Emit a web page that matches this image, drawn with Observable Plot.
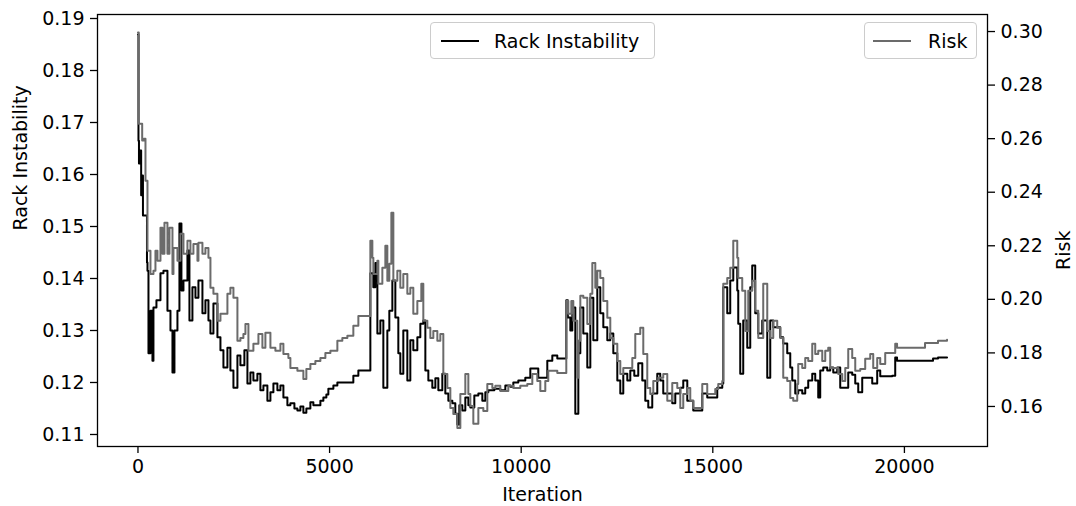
<!DOCTYPE html>
<html><head><meta charset="utf-8">
<script src="https://cdn.jsdelivr.net/npm/d3@7"></script>
<script src="https://cdn.jsdelivr.net/npm/@observablehq/plot@0.6"></script>
<style>
body{margin:0;background:#fff;font-family:"DejaVu Sans",sans-serif;}
#chart{position:relative;width:1076px;height:506px;}
.legend{position:absolute;box-sizing:border-box;border:1px solid #cccccc;border-radius:4px;background:rgba(255,255,255,0.8);font-size:19px;color:#000;}
.legend .sw{position:absolute;height:0;border-top:2px solid #000;}
.legend .tx{position:absolute;white-space:nowrap;line-height:22px;}
</style>
</head><body>
<div id="chart"></div>
<script>
// ---- data ----
const rackIteration = [0,13,26,52,83,104,130,235,248,274,326,378,404,482,587,665,769,848,900,952,1030,1082,1134,1187,1291,1343,1421,1500,1578,1682,1760,1839,1891,1969,2073,2152,2230,2334,2412,2491,2595,2673,2777,2856,2934,3012,3116,3195,3273,3377,3456,3534,3638,3717,3795,3899,3977,4082,4160,4238,4316,4394,4499,4577,4681,4760,4838,4916,4968,5099,5203,5360,5490,5620,5751,6012,6051,6064,6142,6194,6247,6325,6403,6507,6559,6638,6716,6794,6846,6924,7029,7107,7185,7290,7368,7446,7499,7577,7681,7760,7838,7942,8020,8099,8203,8281,8334,8386,8464,8542,8621,8673,8777,8882,8986,9064,9142,9299,9455,9586,9716,9794,9925,10107,10238,10368,10446,10577,10681,10812,10942,11151,11177,11217,11282,11334,11412,11491,11543,11621,11725,11804,11882,11986,12064,12143,12247,12325,12404,12508,12586,12664,12769,12847,12951,13055,13160,13238,13316,13420,13551,13629,13707,13838,13942,14021,14151,14229,14334,14438,14490,14673,14725,14855,15064,15116,15247,15273,15377,15455,15534,15638,15664,15716,15794,15899,15977,16029,16107,16186,16290,16421,16499,16577,16681,16760,16838,16942,17021,17073,17151,17229,17334,17412,17490,17595,17673,17751,17803,17882,17986,18064,18143,18247,18325,18456,18534,18638,18717,18795,18899,19056,19160,19290,19369,19682,19760,19808,20069,20486,20747,20877,21112];
const rackInstability = [0.1869,0.1665,0.1621,0.1646,0.1560,0.1598,0.1521,0.1431,0.1415,0.1256,0.1338,0.1242,0.1344,0.1358,0.1410,0.1415,0.1338,0.1300,0.1219,0.1300,0.1338,0.1506,0.1377,0.1396,0.1454,0.1319,0.1383,0.1363,0.1396,0.1333,0.1358,0.1319,0.1294,0.1352,0.1287,0.1262,0.1229,0.1267,0.1223,0.1190,0.1252,0.1233,0.1262,0.1198,0.1219,0.1204,0.1217,0.1185,0.1194,0.1165,0.1181,0.1198,0.1185,0.1194,0.1171,0.1156,0.1160,0.1150,0.1146,0.1154,0.1142,0.1150,0.1162,0.1156,0.1156,0.1165,0.1171,0.1177,0.1188,0.1194,0.1200,0.1200,0.1200,0.1213,0.1223,0.1223,0.1223,0.1410,0.1383,0.1430,0.1294,0.1319,0.1190,0.1300,0.1338,0.1396,0.1325,0.1256,0.1217,0.1300,0.1204,0.1281,0.1262,0.1287,0.1313,0.1319,0.1223,0.1204,0.1190,0.1208,0.1185,0.1217,0.1179,0.1165,0.1160,0.1140,0.1119,0.1156,0.1146,0.1171,0.1156,0.1152,0.1175,0.1179,0.1165,0.1181,0.1185,0.1188,0.1185,0.1194,0.1192,0.1200,0.1204,0.1209,0.1227,0.1227,0.1209,0.1209,0.1242,0.1252,0.1246,0.1246,0.1358,0.1325,0.1300,0.1344,0.1140,0.1256,0.1344,0.1294,0.1229,0.1363,0.1281,0.1383,0.1333,0.1306,0.1281,0.1294,0.1256,0.1204,0.1179,0.1217,0.1204,0.1223,0.1213,0.1237,0.1204,0.1165,0.1152,0.1179,0.1217,0.1204,0.1179,0.1179,0.1160,0.1179,0.1190,0.1204,0.1165,0.1165,0.1146,0.1146,0.1179,0.1171,0.1171,0.1190,0.1198,0.1383,0.1333,0.1396,0.1421,0.1377,0.1313,0.1217,0.1319,0.1267,0.1383,0.1425,0.1333,0.1294,0.1319,0.1209,0.1319,0.1306,0.1306,0.1287,0.1275,0.1256,0.1229,0.1204,0.1179,0.1185,0.1179,0.1190,0.1204,0.1217,0.1204,0.1171,0.1223,0.1229,0.1223,0.1229,0.1219,0.1229,0.1190,0.1190,0.1219,0.1215,0.1198,0.1181,0.1209,0.1209,0.1198,0.1223,0.1212,0.1213,0.1248,0.1242,0.1242,0.1242,0.1246,0.1248,0.1248];

const riskIteration = [0,21,65,110,151,196,248,274,326,404,456,509,587,639,691,769,822,900,926,1030,1108,1187,1291,1369,1447,1552,1578,1682,1760,1839,1891,1969,2073,2152,2230,2334,2412,2491,2595,2673,2751,2804,2882,3012,3143,3247,3325,3456,3586,3717,3795,3925,3977,4160,4316,4394,4499,4629,4760,4890,5021,5203,5333,5464,5620,5751,6038,6064,6116,6142,6247,6273,6377,6455,6507,6559,6612,6664,6768,6846,6924,7029,7107,7185,7290,7394,7446,7551,7629,7707,7812,7890,7968,8073,8151,8229,8334,8412,8490,8542,8621,8673,8751,8882,9012,9116,9247,9325,9455,9664,9794,9977,10159,10290,10420,10499,10629,10707,10942,11151,11177,11230,11308,11360,11464,11491,11543,11621,11725,11804,11856,11934,11986,12064,12143,12247,12325,12404,12508,12586,12664,12769,12899,12977,13107,13186,13290,13368,13447,13577,13707,13812,13942,14073,14151,14229,14334,14412,14490,14621,14725,14855,15064,15142,15247,15273,15377,15455,15534,15638,15664,15768,15847,15925,16029,16107,16186,16316,16421,16499,16577,16681,16760,16838,16942,17021,17099,17203,17229,17334,17412,17490,17595,17673,17751,17856,17934,18012,18064,18195,18273,18378,18456,18534,18638,18717,18847,18977,19108,19186,19290,19369,19499,19682,19760,19808,20147,20486,20538,20747,20877,21112];
const riskValue = [0.2996,0.2656,0.2656,0.2593,0.2600,0.2443,0.2181,0.2181,0.2095,0.2107,0.2181,0.2144,0.2267,0.2170,0.2286,0.2170,0.2267,0.2095,0.2192,0.2144,0.2245,0.2170,0.2219,0.2170,0.2207,0.2144,0.2211,0.2170,0.2192,0.2155,0.2043,0.2021,0.1920,0.1946,0.1946,0.2021,0.2043,0.2006,0.1845,0.1856,0.1871,0.1908,0.1808,0.1834,0.1871,0.1819,0.1875,0.1819,0.1808,0.1834,0.1796,0.1781,0.1744,0.1733,0.1703,0.1740,0.1759,0.1770,0.1781,0.1800,0.1808,0.1845,0.1856,0.1864,0.1901,0.1938,0.1938,0.2219,0.2155,0.2095,0.2144,0.2058,0.2118,0.2200,0.2069,0.2133,0.2323,0.2069,0.2107,0.2043,0.2095,0.2021,0.2043,0.1946,0.1994,0.2058,0.1920,0.1894,0.1856,0.1882,0.1845,0.1871,0.1721,0.1669,0.1594,0.1572,0.1520,0.1647,0.1647,0.1721,0.1647,0.1602,0.1535,0.1594,0.1583,0.1684,0.1669,0.1677,0.1658,0.1677,0.1669,0.1677,0.1684,0.1721,0.1695,0.1658,0.1695,0.1733,0.1725,0.1725,0.1994,0.1946,0.1994,0.1920,0.1707,0.1845,0.2013,0.2006,0.1908,0.2021,0.2136,0.2043,0.2107,0.2080,0.1994,0.1931,0.1856,0.1834,0.1770,0.1721,0.1744,0.1744,0.1781,0.1871,0.1894,0.1796,0.1669,0.1647,0.1695,0.1707,0.1721,0.1621,0.1688,0.1669,0.1594,0.1647,0.1669,0.1621,0.1594,0.1594,0.1684,0.1647,0.1665,0.1684,0.1695,0.2058,0.2080,0.2118,0.2219,0.2155,0.2080,0.2032,0.1882,0.2032,0.2069,0.1957,0.1856,0.2058,0.1882,0.1856,0.1920,0.1894,0.1856,0.1707,0.1695,0.1632,0.1621,0.1684,0.1759,0.1744,0.1781,0.1770,0.1834,0.1796,0.1808,0.1770,0.1808,0.1819,0.1744,0.1744,0.1721,0.1695,0.1744,0.1815,0.1781,0.1733,0.1740,0.1778,0.1796,0.1744,0.1781,0.1759,0.1800,0.1800,0.1834,0.1819,0.1819,0.1819,0.1837,0.1837,0.1845,0.1849];

const xTicks = [0, 5000, 10000, 15000, 20000];
const leftTicks = [0.11, 0.12, 0.13, 0.14, 0.15, 0.16, 0.17, 0.18, 0.19];
const rightTicks = [0.16, 0.18, 0.20, 0.22, 0.24, 0.26, 0.28, 0.30];

// ---- scales ----
const xDomain = [-1056, 22168];
const leftDomain = [0.10769, 0.19077];
const rightDomain = [0.14505, 0.30636];
const toLeft = r => leftDomain[0] + (r - rightDomain[0]) * (leftDomain[1] - leftDomain[0]) / (rightDomain[1] - rightDomain[0]);
const toRight = l => rightDomain[0] + (l - leftDomain[0]) * (rightDomain[1] - rightDomain[0]) / (leftDomain[1] - leftDomain[0]);

const rack = rackIteration.map((it, i) => ({it, v: rackInstability[i]}));
const risk = riskIteration.map((it, i) => ({it, v: toLeft(riskValue[i])}));

const FS = 19;
const chart = Plot.plot({
  width: 1076, height: 506,
  marginLeft: 97, marginRight: 89, marginTop: 14, marginBottom: 60,
  style: {fontFamily: "DejaVu Sans", fontSize: FS + "px", color: "#000", background: "#fff"},
  x: {domain: xDomain},
  y: {domain: leftDomain},
  marks: [
    Plot.lineY(rack, {x: "it", y: "v", stroke: "#000", strokeWidth: 2, curve: "step-after"}),
    Plot.lineY(risk, {x: "it", y: "v", stroke: "#6b6b6b", strokeWidth: 2, curve: "step-after"}),
    Plot.frame({stroke: "#000", strokeWidth: 1.3}),
    Plot.axisX({ticks: xTicks, tickSize: 7, tickPadding: 6, tickFormat: d => String(d), label: null, fontSize: FS, strokeWidth: 1.3}),
    Plot.axisY({ticks: leftTicks, tickSize: 7, tickPadding: 6, tickFormat: d => d.toFixed(2), label: null, fontSize: FS, strokeWidth: 1.3}),
    Plot.axisY(rightTicks.map(toLeft), {anchor: "right", tickSize: 7, tickPadding: 6, tickFormat: d => toRight(d).toFixed(2), label: null, fontSize: FS, strokeWidth: 1.3}),
    Plot.text(["Iteration"], {frameAnchor: "bottom", dy: 54, fontSize: FS, fill: "#000"}),
    Plot.text(["Rack Instability"], {frameAnchor: "left", dx: -77, rotate: -90, fontSize: FS, fill: "#000"}),
    Plot.text(["Risk"], {frameAnchor: "right", dx: 76, rotate: -90, fontSize: FS, fill: "#000"})
  ]
});
const root = document.getElementById("chart");
root.appendChild(chart);

function legend(left, top, w, h, color, label, lineX0, lineX1, textX) {
  const box = document.createElement("div");
  box.className = "legend";
  Object.assign(box.style, {left: left + "px", top: top + "px", width: w + "px", height: h + "px"});
  const sw = document.createElement("div");
  sw.className = "sw";
  Object.assign(sw.style, {left: (lineX0 - left) + "px", width: (lineX1 - lineX0) + "px", top: (h / 2 - 2) + "px", borderTopColor: color});
  const tx = document.createElement("div");
  tx.className = "tx";
  tx.textContent = label;
  Object.assign(tx.style, {left: (textX - left) + "px", top: (h / 2 - 12) + "px"});
  box.appendChild(sw); box.appendChild(tx);
  root.appendChild(box);
}
legend(430, 22, 225, 37, "#000", "Rack Instability", 440, 478, 493);
legend(864, 22, 113, 37, "#6b6b6b", "Risk", 872, 910, 927);
</script>
</body></html>
